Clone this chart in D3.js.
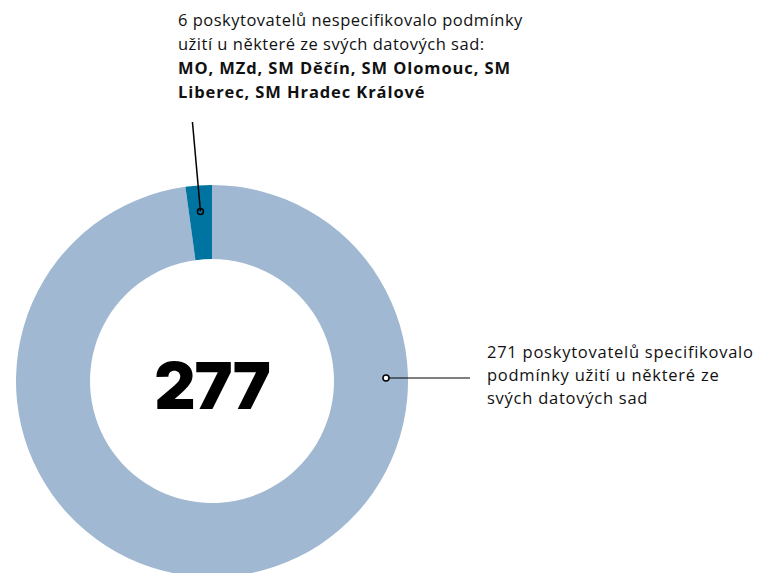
<!DOCTYPE html>
<html><head><meta charset="utf-8">
<script src="https://cdn.jsdelivr.net/npm/d3@7"></script>
<style>body{margin:0;background:#fff}svg{display:block}text{font-family:"Open Sans",sans-serif}</style>
</head><body><svg id="c" width="762" height="573"></svg>
<script>
const categories = ["specifikovalo", "nespecifikovalo"];
const values = [271, 6];
const colors = ["#a0b8d1", "#0074a0"];
const total = 277;
const topLines = ["6 poskytovatelů nespecifikovalo podmínky", "užití u některé ze svých datových sad:"];
const topBold = ["MO, MZd, SM Děčín, SM Olomouc, SM", "Liberec, SM Hradec Králové"];
const rightLines = ["271 poskytovatelů specifikovalo", "podmínky užití u některé ze", "svých datových sad"];

const svg = d3.select("#c");
const cx = 212, cy = 381, rO = 196, rI = 122;
const g = svg.append("g").attr("transform", `translate(${cx},${cy})`);
const pie = d3.pie().sort(null).value(d => d)(values);
const arc = d3.arc().innerRadius(rI).outerRadius(rO);
g.selectAll("path").data(pie).join("path").attr("d", arc).attr("fill", (d, i) => colors[i]);

g.append("text").attr("x", 0).attr("y", 28).attr("text-anchor", "middle")
  .style("font-family", "Inter, Roboto, sans-serif").style("font-weight", 900).style("font-size", "64px")
  .style("letter-spacing", "-1px").attr("fill", "#000").text(total);

// small slice leader
const s = pie[1];
const mid = (s.startAngle + s.endAngle) / 2;
const rd = 170;
const px = rd * Math.sin(mid), py = -rd * Math.cos(mid);
g.append("line").attr("x1", px).attr("y1", py).attr("x2", px - 8).attr("y2", 122 - cy).attr("stroke", "#000").attr("stroke-width", 1.5);
g.append("circle").attr("cx", px).attr("cy", py).attr("r", 3).attr("fill", "none").attr("stroke", "#000").attr("stroke-width", 1.5);

// big slice leader
g.append("line").attr("x1", 174).attr("y1", -3).attr("x2", 258).attr("y2", -3).attr("stroke", "#000").attr("stroke-width", 1.2);
g.append("circle").attr("cx", 174).attr("cy", -3).attr("r", 3).attr("fill", "#fff").attr("stroke", "#000").attr("stroke-width", 1.5);

const t1 = svg.append("text").style("font-size", "16.5px").attr("fill", "#111");
topLines.concat(topBold).forEach((l, i) => {
  t1.append("tspan").attr("x", 178).attr("y", 26 + i * 24)
    .style("font-weight", i >= 2 ? 700 : 400).style("letter-spacing", i >= 2 ? "0.9px" : "0.5px").text(l);
});
const t2 = svg.append("text").style("font-size", "16.5px").style("letter-spacing", "0.75px").attr("fill", "#111");
rightLines.forEach((l, i) => {
  t2.append("tspan").attr("x", 487).attr("y", 358 + i * 23).text(l);
});
</script></body></html>
